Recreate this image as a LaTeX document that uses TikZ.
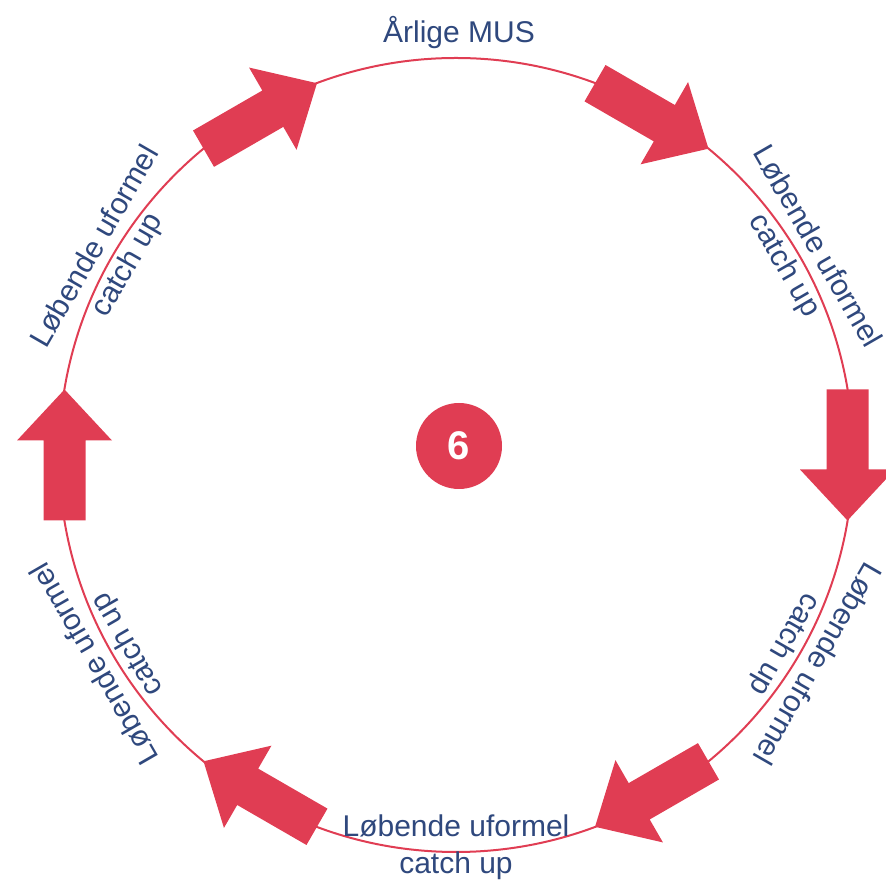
\documentclass[tikz,border=0pt]{standalone}
\usepackage{fontspec}
\setmainfont{Liberation Sans}
\usetikzlibrary{calc}
\definecolor{cred}{RGB}{224,61,83}
\definecolor{cblue}{RGB}{47,72,125}
\tikzset{
  lbl/.style={text=cblue, align=center, inner sep=0pt, font=\fontsize{30}{37}\selectfont},
  ring/.style={draw=cred, line width=2pt},
  cyclearrow/.style={fill=cred, draw=none},
}
\begin{document}
\begin{tikzpicture}[x=1pt,y=1pt]
\useasboundingbox (0,0) rectangle (886,883);
\coordinate (C) at (456,428);
\draw[ring] (C) circle[radius=397];
% arrows
\foreach \a in {120,60,0,-60,-120,180}{
  \begin{scope}[shift={(C)}, rotate=\a]
    \fill[cyclearrow] (370.5,65.5) -- (412.5,65.5) -- (412.5,-14.5) -- (439,-14.5)
      -- (391.5,-65.5) -- (344,-14.5) -- (370.5,-14.5) -- cycle;
  \end{scope}
}
% labels
\node[lbl, anchor=base] (top) at (459,840) {Årlige MUS};
\node[lbl, rotate=-60] (l30) at ($(C)+(30:397)$) {Løbende uformel\\catch up};
\node[lbl, rotate=-120] (lm30) at ($(C)+(-30:397)$) {Løbende uformel\\catch up};
\node[lbl, rotate=60] (l150) at ($(C)+(150:397)$) {Løbende uformel\\catch up};
\node[lbl, rotate=120] (lm150) at ($(C)+(-150:397)$) {Løbende uformel\\catch up};
\node[lbl] (bot) at ($(C)+(-90:392)$) {Løbende uformel\\catch up};
% center badge
\node[circle, fill=cred, minimum size=86pt, inner sep=0pt, text=white,
  font=\fontsize{40}{40}\selectfont\bfseries] (six) at (459,437) {6};
\end{tikzpicture}
\end{document}
